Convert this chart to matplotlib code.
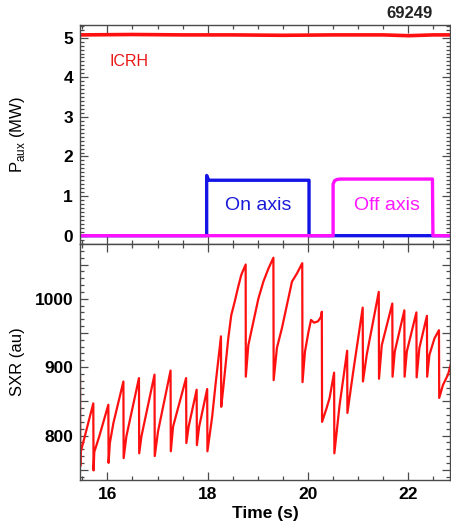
import matplotlib
matplotlib.use("Agg")
import matplotlib.pyplot as plt
from matplotlib.ticker import MultipleLocator, FuncFormatter

plt.rcParams['font.family'] = ['Liberation Sans', 'DejaVu Sans']

# ---------------- data ----------------
shot_label = "69249"

icrh_t = [15.45, 16.5, 17.5, 18.5, 19.5, 20.5, 21.5, 22.0, 22.5, 22.85]
icrh_p = [5.07, 5.08, 5.07, 5.07, 5.06, 5.07, 5.07, 5.05, 5.07, 5.07]

on_t = [15.45, 17.98, 17.98, 18.02, 19.0, 20.02, 20.02, 22.85]
on_p = [0.0, 0.0, 1.52, 1.40, 1.40, 1.40, 0.0, 0.0]

off_t = [15.45, 20.50, 20.50, 20.53, 20.58, 20.65, 22.48, 22.49, 22.85]
off_p = [0.0, 0.0, 1.30, 1.39, 1.42, 1.43, 1.43, 0.0, 0.0]

sxr_t = [15.455, 15.46, 15.47, 15.72, 15.725,
         15.74, 15.84, 16.02, 16.025,
         16.05, 16.12, 16.32, 16.325,
         16.38, 16.63, 16.635,
         16.68, 16.94, 16.945,
         17.01, 17.26, 17.265,
         17.31, 17.57, 17.575,
         17.62, 17.78, 17.785,
         17.83, 17.99, 17.995,
         18.09, 18.16, 18.265, 18.27,
         18.31, 18.41, 18.47, 18.54, 18.60, 18.67, 18.757, 18.76,
         18.81, 18.91, 19.01, 19.11, 19.21, 19.31, 19.315,
         19.38, 19.48, 19.58, 19.68, 19.78, 19.885, 19.89,
         19.94, 20.01, 20.06, 20.12, 20.20, 20.26, 20.275, 20.28,
         20.37, 20.43, 20.52, 20.525,
         20.63, 20.78, 20.785,
         20.90, 21.09, 21.095,
         21.17, 21.41, 21.415,
         21.47, 21.68, 21.685,
         21.73, 21.92, 21.925,
         21.97, 22.16, 22.165,
         22.22, 22.37, 22.375,
         22.42, 22.52, 22.61, 22.615,
         22.69, 22.79, 22.86]
sxr_v = [886, 755, 776, 847, 749,
         776, 799, 845, 760,
         789, 818, 879, 767,
         799, 884, 774,
         799, 889, 770,
         806, 895, 777,
         813, 884, 789,
         813, 867, 786,
         813, 868, 777,
         828, 877, 945, 842,
         869, 942, 976, 996, 1015, 1035, 1050, 886,
         932, 966, 1000, 1025, 1044, 1060, 881,
         928, 957, 991, 1025, 1037, 1052, 878,
         923, 952, 969, 965, 967, 974, 981, 820,
         840, 855, 892, 774,
         845, 924, 833,
         893, 987, 879,
         918, 1010, 883,
         932, 993, 886,
         923, 983, 886,
         923, 980, 885,
         928, 975, 886,
         918, 942, 954, 855,
         874, 889, 908]

# ---------------- figure ----------------
W, H = 452, 527
fig = plt.figure(figsize=(W / 100, H / 100), dpi=100)

left = 80 / W
right = 450 / W
ax1 = fig.add_axes([left, 1 - 244 / H, right - left, (244 - 25) / H])
ax2 = fig.add_axes([left, 1 - 480 / H, right - left, (480 - 244) / H])

spine_col = '#4a4a4a'

for ax in (ax1, ax2):
    for s in ax.spines.values():
        s.set_color(spine_col)
        s.set_linewidth(1.0)
    ax.set_xlim(15.455, 22.83)
    ax.xaxis.set_major_locator(MultipleLocator(2))
    ax.xaxis.set_minor_locator(MultipleLocator(0.5))
    ax.tick_params(which='both', direction='in', top=True, right=True,
                   color=spine_col, width=0.9)
    ax.tick_params(which='major', length=6, pad=5)
    ax.tick_params(which='minor', length=3)

# top panel
ax1.plot(icrh_t, icrh_p, color='#ff1010', lw=2.6, solid_capstyle='butt')
ax1.plot(on_t, on_p, color='#1414e6', lw=2.4)
ax1.plot(off_t, off_p, color='#ff10ff', lw=2.4)
ax1.set_ylim(-0.21, 5.32)
ax1.yaxis.set_major_locator(MultipleLocator(1))
ax1.yaxis.set_minor_locator(MultipleLocator(0.1))
ax1.tick_params(axis='x', labelbottom=False)
ax1.set_ylabel(r'P$_{\mathregular{aux}}$ (MW)', fontsize=12, va='center')
ax1.yaxis.set_label_coords(-0.17, 0.5)
ax1.text(16.05, 4.4, 'ICRH', color='#e81818', fontsize=11.5, ha='left', va='center')
ax1.text(19.0, 0.76, 'On axis', color='#1a1ad8', fontsize=14, ha='center', va='center')
ax1.text(21.57, 0.76, 'Off axis', color='#ff18ff', fontsize=14, ha='center', va='center')
fig.text(433 / W, 1 - 14 / H, shot_label, ha='right', va='center',
         fontsize=12, fontweight='bold', color='#222222')

# bottom panel
ax2.plot(sxr_t, sxr_v, color='#ff1010', lw=1.6)
ax2.set_ylim(735, 1080)
ax2.yaxis.set_major_locator(MultipleLocator(50))
ax2.yaxis.set_minor_locator(MultipleLocator(10))
ax2.yaxis.set_major_formatter(FuncFormatter(
    lambda v, p: f'{int(round(v))}' if abs(v % 100) < 1e-6 else ''))
ax2.set_ylabel('SXR (au)', fontsize=12, va='center')
ax2.yaxis.set_label_coords(-0.17, 0.5)
ax2.set_xlabel('Time (s)', fontsize=12.5, fontweight='bold', labelpad=3)

for ax in (ax1, ax2):
    for lab in ax.get_xticklabels() + ax.get_yticklabels():
        lab.set_fontsize(12.5)
        lab.set_fontweight('bold')

fig.savefig('out.png', dpi=100)
